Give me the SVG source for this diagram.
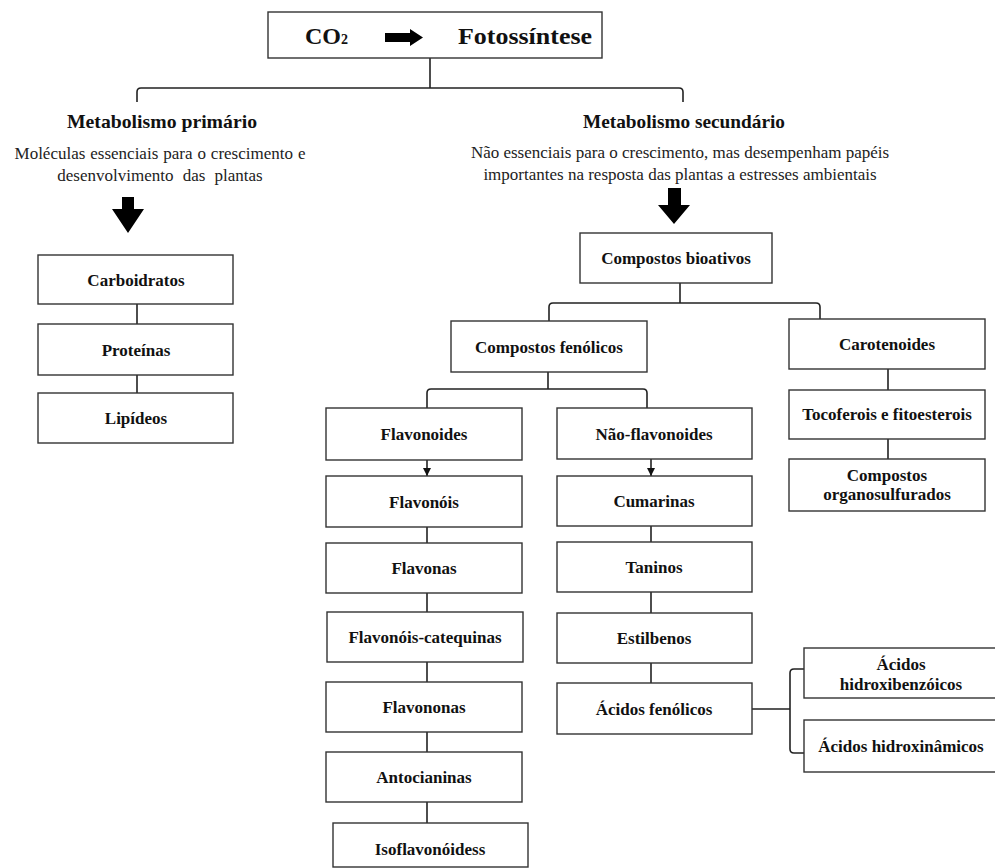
<svg xmlns="http://www.w3.org/2000/svg" width="995" height="868" viewBox="0 0 995 868">
<style>
.box{fill:#fff;stroke:#333;stroke-width:1.4}
.t{font-family:"Liberation Serif","Times New Roman",serif;font-weight:bold;font-size:17px;fill:#111;text-anchor:middle}
.h{font-family:"Liberation Serif","Times New Roman",serif;font-weight:bold;font-size:19.5px;fill:#111;text-anchor:middle}
.d{font-family:"Liberation Serif","Times New Roman",serif;font-size:17px;fill:#222;text-anchor:middle}
.c{fill:none;stroke:#222;stroke-width:1.6}
.big{fill:#000}
</style>
<defs>
<marker id="ah" markerUnits="userSpaceOnUse" markerWidth="8" markerHeight="8" refX="8" refY="4" orient="auto">
<path d="M0,0 L8,4 L0,8 z" fill="#111"/>
</marker>
</defs>
<rect width="995" height="868" fill="#fff"/>

<g id="connectors">
<path class="c" d="M430,58 V88 M137,102 V92 Q137,88 141,88 H679 Q683,88 683,92 V102"/>
<polygon class="big" points="122,197 134,197 134,209 144,209 128,233 112,209 122,209"/>
<polygon class="big" points="668,188 681,188 681,205 690,205 674,224 658,205 668,205"/>
<path class="c" d="M137,304 V324 M137,375 V393"/>
<path class="c" d="M680,283 V303 M549,321 V307 Q549,303 553,303 H816 Q820,303 820,307 V319"/>
<path class="c" d="M548,372 V389 M427,408 V393 Q427,389 431,389 H643 Q647,389 647,393 V408"/>
<path class="c" d="M888,369 V390 M888,439 V459"/>
<line class="c" x1="427" y1="460" x2="427" y2="476" marker-end="url(#ah)"/>
<path class="c" d="M427,527 V543 M427,593 V612 M427,662 V682 M427,732 V752 M427,802 V823"/>
<line class="c" x1="651" y1="459" x2="651" y2="476" marker-end="url(#ah)"/>
<path class="c" d="M651,526 V542 M651,592 V613 M651,663 V683"/>
<path class="c" d="M752,709 H790 M804,669 H794 Q790,669 790,673 V749 Q790,753 794,753 H804"/>
</g>

<g id="n-top">
<rect class="box" x="268" y="12" width="334" height="46"/>
<text x="305" y="44" font-family="Liberation Serif,Times New Roman,serif" font-weight="bold" font-size="24" fill="#111">CO<tspan font-size="14">2</tspan></text>
<polygon class="big" points="385,33 410,33 410,29 423,37.5 410,46 410,42 385,42"/>
<text x="458" y="44" font-family="Liberation Serif,Times New Roman,serif" font-weight="bold" font-size="24" fill="#111" textLength="134" lengthAdjust="spacingAndGlyphs">Fotossíntese</text>
</g>

<g id="n-primario">
<text class="h" x="162" y="128" textLength="190" lengthAdjust="spacingAndGlyphs">Metabolismo primário</text>
<text class="d" x="160" y="159" word-spacing="0.7">Moléculas essenciais para o crescimento e</text>
<text class="d" x="160" y="181" word-spacing="5">desenvolvimento das plantas</text>
</g>

<g id="n-secundario">
<text class="h" x="684" y="128" textLength="202" lengthAdjust="spacingAndGlyphs">Metabolismo secundário</text>
<text class="d" x="680" y="158">Não essenciais para o crescimento, mas desempenham papéis</text>
<text class="d" x="680" y="180">importantes na resposta das plantas a estresses ambientais</text>
</g>

<g id="n-carboidratos"><rect class="box" x="38" y="255" width="195" height="49"/><text class="t" x="136" y="286">Carboidratos</text></g>
<g id="n-proteinas"><rect class="box" x="38" y="324" width="195" height="51"/><text class="t" x="136" y="356">Proteínas</text></g>
<g id="n-lipideos"><rect class="box" x="38" y="393" width="195" height="50"/><text class="t" x="136" y="424">Lipídeos</text></g>

<g id="n-bioativos"><rect class="box" x="580" y="233" width="192" height="50"/><text class="t" x="676" y="264">Compostos bioativos</text></g>
<g id="n-fenolicos"><rect class="box" x="451" y="321" width="196" height="51"/><text class="t" x="549" y="353">Compostos fenólicos</text></g>
<g id="n-carotenoides"><rect class="box" x="789" y="319" width="196" height="50"/><text class="t" x="887" y="350">Carotenoides</text></g>
<g id="n-tocoferois"><rect class="box" x="789" y="390" width="196" height="49"/><text class="t" x="887" y="420">Tocoferois e fitoesterois</text></g>
<g id="n-organosulfurados"><rect class="box" x="789" y="459" width="196" height="52"/><text class="t" x="887" y="481">Compostos</text><text class="t" x="887" y="500">organosulfurados</text></g>

<g id="n-flavonoides"><rect class="box" x="326" y="408" width="196" height="52"/><text class="t" x="424" y="440">Flavonoides</text></g>
<g id="n-flavonois"><rect class="box" x="326" y="476" width="196" height="51"/><text class="t" x="424" y="508">Flavonóis</text></g>
<g id="n-flavonas"><rect class="box" x="326" y="543" width="196" height="50"/><text class="t" x="424" y="574">Flavonas</text></g>
<g id="n-catequinas"><rect class="box" x="327" y="612" width="196" height="50"/><text class="t" x="425" y="643">Flavonóis-catequinas</text></g>
<g id="n-flavononas"><rect class="box" x="326" y="682" width="196" height="50"/><text class="t" x="424" y="713">Flavononas</text></g>
<g id="n-antocianinas"><rect class="box" x="326" y="752" width="196" height="50"/><text class="t" x="424" y="783">Antocianinas</text></g>
<g id="n-isoflavonoidess"><rect class="box" x="333" y="823" width="195" height="44"/><text class="t" x="430" y="855">Isoflavonóidess</text></g>

<g id="n-naoflavonoides"><rect class="box" x="557" y="408" width="195" height="51"/><text class="t" x="654" y="440">Não-flavonoides</text></g>
<g id="n-cumarinas"><rect class="box" x="557" y="476" width="195" height="50"/><text class="t" x="654" y="507">Cumarinas</text></g>
<g id="n-taninos"><rect class="box" x="557" y="542" width="195" height="50"/><text class="t" x="654" y="573">Taninos</text></g>
<g id="n-estilbenos"><rect class="box" x="557" y="613" width="195" height="50"/><text class="t" x="654" y="644">Estilbenos</text></g>
<g id="n-acidosfenolicos"><rect class="box" x="557" y="683" width="195" height="51"/><text class="t" x="654" y="715">Ácidos fenólicos</text></g>

<g id="n-hidroxibenzoicos"><rect class="box" x="804" y="648" width="198" height="50"/><text class="t" x="901" y="670">Ácidos</text><text class="t" x="901" y="690">hidroxibenzóicos</text></g>
<g id="n-hidroxinamicos"><rect class="box" x="804" y="720" width="198" height="52"/><text class="t" x="901" y="752">Ácidos hidroxinâmicos</text></g>
</svg>
